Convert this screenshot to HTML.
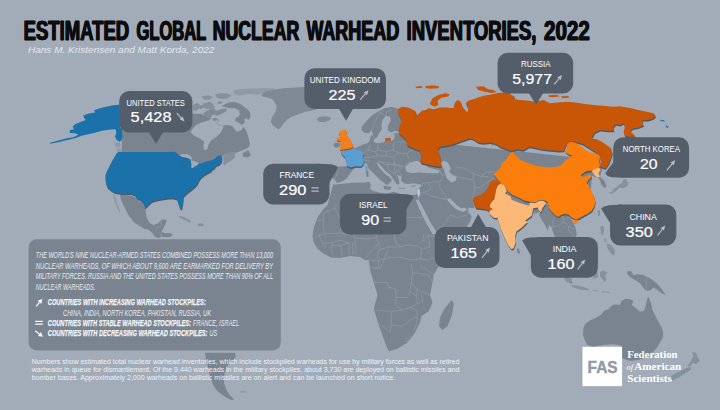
<!DOCTYPE html>
<html><head><meta charset="utf-8"><title>Estimated Global Nuclear Warhead Inventories, 2022</title>
<style>html,body{margin:0;padding:0;background:#a2acb9;}body{width:720px;height:410px;overflow:hidden;font-family:"Liberation Sans",sans-serif;}svg{display:block}</style>
</head><body>
<svg width="720" height="410" viewBox="0 0 720 410">
<rect width="720" height="410" fill="#a2acb9"/>
<g id="map" stroke-linejoin="round">
<polygon points="120,104.5 135,101 160,100 192,112 192.92,113.75 200.83,113.75 203.75,115.42 207.5,116.67 210.83,117.92 211.83,119.33 220,124.67 223.33,127.5 222.92,125.42 226.67,125 231.67,125.83 233.33,127.5 236.67,131.67 241.67,130 243.33,126.67 245.83,130 248.33,136.67 250,144.17 248.33,147.5 243.33,150 236.67,152.5 228.33,154.17 223.33,155.83 221.67,155.83 215,170 150,175 121.5,158 121.5,152.5 122,146 122,141.5 120,128.5" fill="#7a848f"/>
<polygon points="194.17,126.83 197.5,124.33 200.83,122.67 205,121.42 209.17,120.17 211.25,118.5 220,125.33 223,127 223.33,127.5 220.83,132.5 216.67,136.67 211.67,140 208.33,145 207.5,148.67 205.83,150.33 203.67,149.17 203.33,145 204.17,141.67 199.17,138.33 194.17,135.83 190,131.67 190.83,131.67" fill="#a2acb9"/>
<polygon points="177.67,155.23 183.52,154.06 188.39,154.55 191.32,156.89 192.1,159.62 189.37,159.13 185.96,158.16 182.06,157.48" fill="#a2acb9"/>
<polygon points="189.95,160.2 194.24,160.89 198.33,162.84 197.85,165.18 194.24,167.22 191.8,168.68 190.34,165.96 190.93,163.52" fill="#a2acb9"/>
<polygon points="242.5,153.33 248.33,150 250.83,155.83 247.5,157.5 243.33,156.67" fill="#7a848f"/>
<polygon points="222.5,154.75 228.35,152.8 233.23,151.63 235.18,152.8 234.79,157.67 231.28,160.59 227.38,163.03 224.45,165.47 223.09,163.52 223.48,159.62" fill="#86909c"/>
<polygon points="202.5,114.17 206.67,110.83 210.83,108.75 214.17,107.92 215,110 217.5,110.83 220.83,109.17 225,108.33 227.08,109.58 225.83,111.67 222.5,113.33 219.17,115 216.67,115.83 214.17,114.58 211.83,115.42 210.83,117.92 207.5,116.67 203.75,115.42" fill="#808a96"/>
<polygon points="193.33,105 196.25,103.33 198.75,103.75 197.92,106.25 196.25,108.33 193.75,110.42 193.17,108.33" fill="#808a96"/>
<polygon points="206.25,103.33 210,102.08 211.83,103.33 210,105 207.08,105.42" fill="#808a96"/>
<polygon points="209.17,107.5 212.5,105.83 215,106.25 213.75,108.33 210.83,108.75" fill="#808a96"/>
<polygon points="217.5,102.08 220.83,101.25 222.5,102.5 220.42,103.75 217.92,103.75" fill="#808a96"/>
<polygon points="212.5,118.75 215,117.5 217.5,118.75 219.17,120.83 215.83,120.42 213.75,121.25" fill="#808a96"/>
<polygon points="199.17,106.67 202.5,105 204.58,106.25 202.5,108.33 200,109.17" fill="#808a96"/>
<polygon points="192.83,107 197.5,103.67 200.83,105.33 199.17,108.67 195,111 193,110" fill="#848e9a"/>
<polygon points="202.5,103.67 209.17,102 213.67,104.33 212.5,107.67 207.5,109.33 203.33,107.67" fill="#848e9a"/>
<polygon points="221.67,105.83 225,104.17 229.17,102.5 234.17,102.08 240,103.75 244.17,106.67 248.33,110 250,112.5 250.42,117.5 248.33,120 245.83,117.92 244.17,120 245,122.5 241.67,125 238.33,122.5 235,120.83 235.42,118.33 238.33,116.67 240,114.17 239.17,110.83 236.25,108.75 233.33,107.92 230,108.33 227.08,107.5 224.17,107.08" fill="#7a848f"/>
<polygon points="238.75,132.5 241.67,130 244.17,134 238.33,135" fill="#7a848f"/>
<polygon points="215,94.67 220.56,93 227.22,93.56 231.67,95.78 227.22,98.56 221.67,99.11 217.22,98" fill="#86909c"/>
<polygon points="201.67,96.33 208.33,95.22 212.78,96.89 209.44,99.67 203.89,99.67" fill="#86909c"/>
<polygon points="232.78,90.78 240.56,89.11 251.67,88.56 265,88 273.89,88.56 276.11,91.33 265,93.56 257.22,94.67 247.22,94.11 240.56,95.78 235,94.67" fill="#909aa6"/>
<polygon points="260.83,95.83 265,91.67 273.33,89.67 283.33,88.33 295,87.5 304.17,87 316.67,88.33 316.67,109 313.33,110.33 308.33,111.33 304.17,112.33 300,113.67 295,115.5 290,117.67 286.67,120 283.67,123.33 280.83,127.5 278.67,129.17 275.83,127.5 272.5,125 270.83,121.67 272,117.5 274.17,114.17 275.83,110.83 276.67,106.67 275,102.5 272.5,99.17 267.5,97.5 263.33,96.67" fill="#7f8994"/>
<polygon points="317,118.67 320,116.67 326.67,116.33 330.83,117.5 330,120 325,122 320,122 317.5,120.83" fill="#808a96"/>
<polygon points="119.67,104.67 113.33,105.33 105,107 98.33,108.67 94.17,110.33 95,112.5 90,113.33 83.33,115.33 84.17,118.33 85.83,120 79.17,122.5 75,124.17 72.5,126.67 74.17,129.17 70,130 69.67,133 75,133.33 78.33,134.67 73.33,137.17 66.67,138.33 58.33,140.5 50,142.67 50.33,143.67 59.17,142 67.5,140 75,138.33 81.67,135.83 88.33,134.17 95,132.83 100,131.33 105,130.33 111.67,129.5 115.33,129.33 116.33,132.5 115,136.67 116.67,140 120,142 122.5,138.33 122,128.67 120,128" fill="#1b72ab"/>
<polygon points="114.17,143 118.33,142 121,144.17 120,147.5 115.83,147" fill="#909aa6"/>
<polygon points="116.33,148.67 120.33,148.33 121.67,150.83 120.83,153.33 117,152.67" fill="#909aa6"/>
<polygon points="116.73,155.07 118.73,153.4 145.4,153.4 167.07,153.4 175.15,153.22 179.05,156.15 182.46,158.29 186.36,158.88 189.77,160.05 190.94,161.99 191.52,164.92 190.94,167.36 192.2,169.79 194.64,168.33 198.05,166.38 199.03,165.41 202.44,164.43 206.34,162.97 211.21,161.99 215.11,160.05 218.52,157.12 221.93,156.63 222.42,159.07 221.93,162.97 219.98,165.41 216.08,167.36 213.16,170.28 211.21,172.72 207.31,174.67 204.39,176.61 201.46,179.05 199.03,182.46 197.56,185.87 195.4,188.07 191.23,191.4 187.07,194.73 183.73,198.07 183.4,203.9 182.07,210.57 180.4,209.73 178.73,204.73 177.4,200.57 173.73,199.4 168.73,199.4 162.07,200.57 157.07,201.4 152.07,203.07 148.4,206.4 145.4,209.4 143.73,204.73 140.4,201.07 137.07,199.73 135.4,196.4 131.23,195.07 125.4,195.57 120.4,194.73 115.4,193.9 112.07,192.23 107.9,188.9 106.23,183.9 105.73,177.23 107.07,173.07 109.57,168.07 112.07,163.07 114.57,158.9" fill="#4e5a68"/>
<polygon points="116.33,153.67 118.33,152 145,152 166.67,152 174.75,151.82 178.65,154.75 182.06,156.89 185.96,157.48 189.37,158.65 190.54,160.59 191.12,163.52 190.54,165.96 191.8,168.39 194.24,166.93 197.65,164.98 198.63,164.01 202.04,163.03 205.94,161.57 210.81,160.59 214.71,158.65 218.12,155.72 221.53,155.23 222.02,157.67 221.53,161.57 219.58,164.01 215.68,165.96 212.76,168.88 210.81,171.32 206.91,173.27 203.99,175.21 201.06,177.65 198.63,181.06 197.16,184.47 195,186.67 190.83,190 186.67,193.33 183.33,196.67 183,202.5 181.67,209.17 180,208.33 178.33,203.33 177,199.17 173.33,198 168.33,198 161.67,199.17 156.67,200 151.67,201.67 148,205 145,208 143.33,203.33 140,199.67 136.67,198.33 135,195 130.83,193.67 125,194.17 120,193.33 115,192.5 111.67,190.83 107.5,187.5 105.83,182.5 105.33,175.83 106.67,171.67 109.17,166.67 111.67,161.67 114.17,157.5" fill="#1b72ab"/>
<polygon points="182.54,160.4 184.1,160.89 182.15,168 180.59,168.39" fill="#2d6893"/>
<polygon points="120,195 131.67,195.83 136.33,198 138.83,201.17 142,202 144.67,207 145.83,211.67 146.67,217.5 149.17,222.5 153.33,225 158.33,223.33 160.83,220 165,219.17 166.67,220.83 165,225 163.33,228.33 161.67,231.67 165,233.33 170.83,233.33 172.5,235 170.83,236.67 165,237 160.83,236.67 158.33,238.33 155,236.67 152.5,233.33 148.67,229.67 144.17,228.67 139.17,225.83 134.17,222.5 130,217.5 126.67,211.67 123.33,205 120.83,199.17" fill="#7a848f"/>
<polygon points="113,194.67 114.67,194.17 116.33,200 118.33,205.83 120.33,212.5 119.17,213 116.67,206.67 114.17,200" fill="#909aa6"/>
<polygon points="178.33,215.83 183.33,216.67 188.33,219.17 191.67,221.67 190,222.5 185,220.33 180,218" fill="#86909c"/>
<polygon points="197.5,223.67 201.67,223.33 204.17,225 201.67,226.33 198,225.83" fill="#86909c"/>
<polygon points="352.5,147.5 356,148 360,145.8 363.7,144.2 368.3,143 370,139.2 370.8,135.8 373,135.3 374.2,139 373.7,142 377.5,143.3 383.3,142.5 385.8,140.8 391,141 394.2,139.2 395,135.8 393.3,133.3 397.5,132.5 410,140 600,160 602,170 600,177 601.7,178.3 604.1,180.6 605.6,183.9 606.7,186.7 604.4,187.8 602.2,186.1 600.8,182.8 600,180 598.3,178 592,176 590,200 570,216.7 573.3,222.5 575.8,228.3 576.7,234.2 575,240 570,250 568,262 566,272 570,279 573,283 570,283.5 565,279 561,272 560,260 558,245 555,236.7 553.3,233.3 551.7,227.5 549.2,225 548.3,228.3 547.5,230.8 545,225 541.7,220 539.2,215 540.8,210.8 536.7,213.3 520,215 475,206.7 473.3,208.3 468.3,207.5 468.3,211.7 471.7,216.7 470,221.7 466.7,226.7 460,240 445,262 437.5,268 433.75,275 432.5,282.5 430,295 432.5,302.5 428.75,311.25 421.25,316.25 420,322.5 415,332.5 407.5,342.5 397.5,348.75 388.75,351.25 385,342.5 378.75,325 373.75,308.75 377.5,295 373.75,282.5 370,270 368.75,260 365,260 360,257 350,256 340,258 331,257.5 323.75,253.75 317.5,248.75 313.75,242.5 312.5,236.25 313.75,227.5 317.5,217.5 322.5,210 327.5,205 333.3,184.2 337.5,183.3 331.7,176.7 332.5,170 334,166.7 338.3,166.7 346.7,166.3" fill="#7a848f"/>
<polygon points="361.67,126.67 365.83,121.67 371.67,115.83 377.5,111.67 384.17,108.33 391.67,107 397,108.33 401.67,121.67 398.33,131.67 395.83,130.83 390.83,132.5 387.5,130 388.33,125 390.83,120.83 390,116.67 385.83,115.83 382.5,120 381.33,125 382,129.17 379.17,133.33 376.67,137.5 374.17,139.17 373,135 371.67,130 370,132.5 367.5,133.33 363.67,132.5 361.67,130" fill="#7a848f"/>
<polygon points="334.17,184.17 336.67,183.33 342.5,181.17 347.5,177.83 349.17,174.5 351.67,171.17 355.33,167.33 360.83,167 363.67,164.67 368.33,162.5 375,162 378.33,163.33 380.83,165.83 384.17,169.67 388.33,173.33 392.5,176.33 395.83,174.17 401.67,176.67 400.83,179.17 402.5,182.5 406.67,184.17 413.33,183.33 420,184.17 422,185.83 418.67,188.33 417.67,194 415,194.67 406.67,195.33 400,193.67 393.33,191.67 386.67,193.67 380,192.67 373.33,191 370,188.67 370.83,184.17 369.17,181.67 365,182.5 353.33,182.67 343.33,183.83 334.17,184.83" fill="#a2acb9"/>
<polygon points="366.67,163.67 370,161.33 375.83,161.33 378.33,166.33 382,170.83 386.17,175 389.5,177 392,180.33 388.67,184 386,185 384,182.67 380.33,180 376.33,176 372,171.67 368.33,168.33" fill="#7a848f"/>
<polygon points="383.33,185.83 391.67,186.67 390,190 384.17,189.17" fill="#7a848f"/>
<polygon points="365.83,170.83 368.33,170.83 368.67,176.67 366.33,176.67" fill="#7a848f"/>
<polygon points="389.67,171.33 396.17,173 398.33,178.33 399.67,183.33 397.5,185 395,181.67 392.5,178.33 390.83,175" fill="#7a848f"/>
<polygon points="398.33,187.5 405,188 404.67,189.17 398.67,188.83" fill="#86909c"/>
<polygon points="410.83,185.83 415.83,185 415,186.67 411.33,187" fill="#86909c"/>
<polygon points="405,166.67 410,162.5 416.67,160.83 423.33,163.33 428.33,167.5 435,169.17 440,170.83 438.33,173.33 431.67,173.33 425,173 418.33,172.5 411.67,173.33 406.67,171.67" fill="#a2acb9"/>
<polygon points="440.83,162.5 445,160.83 448.33,163.33 450.83,168.33 449.17,171.67 452.5,175 456.67,176.67 455.83,180.83 451.67,182.5 448.33,180 445.83,176.67 445,172.5 443.33,168.33 441.67,165.83" fill="#a2acb9"/>
<polygon points="415.83,200 418.33,199.17 422.5,206.67 426.67,215 430.83,223.33 434.17,228 437.5,234.17 432.5,234.17 429.17,228 425.83,222.5 421.67,214.17 418.33,206.67" fill="#a2acb9"/>
<polygon points="446.67,199.17 450,198.33 453.33,201.67 457.5,205.83 461.67,208.33 465,207.5 467.5,210 463.33,211.67 459.17,210.83 455,208.33 450.83,204.17" fill="#a2acb9"/>
<polygon points="333.63,144.11 335.79,142.84 339.21,142.59 340.23,144.75 338.96,146.9 335.79,147.66 333.63,146.4" fill="#7a848f"/>
<polygon points="452,300 453.75,303.75 452,315 447.5,326.25 442.5,330 439,326.25 440,317.5 443.75,310 447.5,305" fill="#7a848f"/>
<polygon points="517.2,248.3 519.4,249 520.1,252.7 518.4,254.2 516.9,251.2" fill="#7a848f"/>
<polygon points="611.67,192.22 613.33,188.89 617.78,186.11 621.67,183.33 623.89,179.11 626.67,180 628.33,183.33 627.22,186.11 623.89,188.33 619.44,187.78 617.22,190 613.89,192.78 610.56,193.89 608.89,192.22" fill="#86909c"/>
<polygon points="597.5,210.83 599.67,210 600,215 598.33,216.67" fill="#86909c"/>
<polygon points="583.33,328.33 585,324.17 589.17,320.83 595,318.33 601.67,314.17 604.17,310.83 608.33,309.17 611.67,305.83 615,304.17 620,305 621.67,300.83 625.83,298.67 630,299.17 633.33,300.83 632,305 635.83,308.33 640,311.67 644.17,310.83 645.83,305 647,299.17 648.33,296.67 650.83,302.5 652.5,310 655.83,316.67 658.33,321.67 661.67,327.5 663.33,333.33 662.5,338.33 660,342.5 660,342.5 657.5,347 653.3,352 646.7,357 638.3,360 630,361 622.5,358.5 610,355 621.67,345.83 613.33,344.17 603.33,345 593.33,347 587.5,345 585,340.83 583,335" fill="#7a848f"/>
<polygon points="692.5,351.75 696.25,353 698,358 700,360.5 696.25,364.25 692.5,363 690,366.75 687.5,365.5 691.25,360.5 693,356.75" fill="#86909c"/>
<polygon points="670,376.75 676.25,373 683.75,369.25 690,366.75 691.25,369.25 685,373.5 678.75,377.5 672.5,380.5" fill="#86909c"/>
<polygon points="626.67,271.67 630.83,270.83 633.33,275 638.33,274.17 643.33,275 650,278.33 656.67,283.33 660,286.67 664.17,292.5 665.83,295 661.67,293.33 656.67,289.17 653.33,287.5 650,290.83 645.83,290.83 643.33,287.5 640,283.33 635,280 630.83,277.5 627.5,274.17" fill="#7a848f"/>
<polygon points="564.17,277 571.67,278.33 572,281.67 567.5,282.67 564.67,280" fill="#86909c"/>
<polygon points="571.67,285 578.33,285.83 585,287.5 589.17,289.17 588.33,290.33 581.67,289.67 575,288 572,286.67" fill="#86909c"/>
<polygon points="600,271.67 603.67,270.83 607.5,272.5 605,275 606.67,280 604.17,281.67 601.67,278.33 600,275.83" fill="#86909c"/>
<polygon points="591.67,272.5 597.5,271.67 598,277.5 593.33,278.67" fill="#86909c"/>
<polygon points="592.5,289.67 598.33,290.33 598,291.67 592.67,291" fill="#909aa6"/>
<polygon points="601.67,290.83 610,292 609.67,293.33 602,292.33" fill="#909aa6"/>
<polygon points="600.33,226.67 603.33,225.83 604.17,230.83 602.5,235.83 600.83,232.5" fill="#86909c"/>
<polygon points="606.67,243.33 610.83,245 615,250 614.17,255.83 610.83,253.33 607.5,248.33" fill="#86909c"/>
<polygon points="603.33,238.33 606.67,238.67 607,242.5 604.17,242" fill="#909aa6"/>
<polygon points="205,352.67 235,352.67 235.83,357 233.33,360.33 230,362.83 226.67,367 225,372 223.67,377.83 224.17,383.67 226.67,390.33 230,395.33 234.17,399.5 231.67,400.33 226.67,397.83 221.67,394.5 216.67,390.33 213.33,385.33 210.83,379.5 209.17,372.83 207.5,365.33 205.83,358.67" fill="#7a848f"/>
<polygon points="240,391.17 245.83,390.67 245.83,392.83 240.33,392.83" fill="#909aa6"/>
<polyline points="314,221 323,220 324,213 335,208 337,204" fill="none" stroke="#939dab" stroke-width="0.6"/>
<polyline points="323,220 324,234 319,235 315,237" fill="none" stroke="#939dab" stroke-width="0.6"/>
<polyline points="324,234 340,233 341,220 335,208" fill="none" stroke="#939dab" stroke-width="0.6"/>
<polyline points="340,233 349,235 354,232 360,230 377,235" fill="none" stroke="#939dab" stroke-width="0.6"/>
<polyline points="354,232 354,238 366,239 376,238 379,243" fill="none" stroke="#939dab" stroke-width="0.6"/>
<polyline points="377,235 376,238" fill="none" stroke="#939dab" stroke-width="0.6"/>
<polyline points="394,235 396,243 400,247" fill="none" stroke="#939dab" stroke-width="0.6"/>
<polyline points="379,250 388,247 400,247 408,245 418,246 422,249" fill="none" stroke="#939dab" stroke-width="0.6"/>
<polyline points="424,234 422,242 428,235 436,237" fill="none" stroke="#939dab" stroke-width="0.6"/>
<polyline points="406,217.6 425,217.6" fill="none" stroke="#939dab" stroke-width="0.6"/>
<polyline points="406,198 406,217.6 406,224 395,235" fill="none" stroke="#939dab" stroke-width="0.6"/>
<polyline points="420,259 428,260 436,257" fill="none" stroke="#939dab" stroke-width="0.6"/>
<polyline points="412,260 420,259 422,249" fill="none" stroke="#939dab" stroke-width="0.6"/>
<polyline points="379,260 388,258 400,257 412,260" fill="none" stroke="#939dab" stroke-width="0.6"/>
<polyline points="379,250 377,258 379,260 378,268" fill="none" stroke="#939dab" stroke-width="0.6"/>
<polyline points="366,258 372,250 379,243 379,250" fill="none" stroke="#939dab" stroke-width="0.6"/>
<polyline points="319,235 322,243 326,248" fill="none" stroke="#939dab" stroke-width="0.6"/>
<polyline points="331,246 332,254" fill="none" stroke="#939dab" stroke-width="0.6"/>
<polyline points="341,245 342,256" fill="none" stroke="#939dab" stroke-width="0.6"/>
<polyline points="349,243 349,255" fill="none" stroke="#939dab" stroke-width="0.6"/>
<polyline points="352.4,243 353,255" fill="none" stroke="#939dab" stroke-width="0.6"/>
<polyline points="355,240 356,254" fill="none" stroke="#939dab" stroke-width="0.6"/>
<polyline points="332,243 340,240 349,243 341,245 332,246 332,243" fill="none" stroke="#939dab" stroke-width="0.6"/>
<polyline points="322,243 332,243" fill="none" stroke="#939dab" stroke-width="0.6"/>
<polyline points="360,230 362,212" fill="none" stroke="#939dab" stroke-width="0.6"/>
<polyline points="362,212 380,206" fill="none" stroke="#939dab" stroke-width="0.6"/>
<polyline points="428,235 430,247 422,249" fill="none" stroke="#939dab" stroke-width="0.6"/>
<polyline points="373.75,282.5 387.5,282.5 388.75,287.5 395.5,288.75 396.25,297.5 407.5,297.5" fill="none" stroke="#939dab" stroke-width="0.6"/>
<polyline points="373.75,310 392.5,311.25 402.5,310" fill="none" stroke="#939dab" stroke-width="0.6"/>
<polyline points="391.25,312.5 391.25,325 390,332.5" fill="none" stroke="#939dab" stroke-width="0.6"/>
<polyline points="391.25,325 402.5,326.25 410,320" fill="none" stroke="#939dab" stroke-width="0.6"/>
<polyline points="396.25,297.5 395.5,305 402.5,310 410,307.5 417.5,303.75 416.25,296.25 410,291.25" fill="none" stroke="#939dab" stroke-width="0.6"/>
<polyline points="410,307.5 416.25,310 417.5,316.25 410,320" fill="none" stroke="#939dab" stroke-width="0.6"/>
<polyline points="417.5,316.25 416.25,325 413.75,330" fill="none" stroke="#939dab" stroke-width="0.6"/>
<polyline points="412.5,272.5 428.75,275 432.5,282.5" fill="none" stroke="#939dab" stroke-width="0.6"/>
<polyline points="412.5,272.5 411.25,282.5 417.5,290 430,295" fill="none" stroke="#939dab" stroke-width="0.6"/>
<polyline points="411.25,263.75 412.5,272.5" fill="none" stroke="#939dab" stroke-width="0.6"/>
<polyline points="411.25,282.5 410,291.25 407.5,297.5" fill="none" stroke="#939dab" stroke-width="0.6"/>
<polyline points="420,265 433.75,275" fill="none" stroke="#939dab" stroke-width="0.6"/>
<polyline points="370,267.5 380,268.75 383.75,260 387.5,250" fill="none" stroke="#939dab" stroke-width="0.6"/>
<polyline points="368.75,260 380,261.25" fill="none" stroke="#939dab" stroke-width="0.6"/>
<polyline points="405,339.25 407,338 409,340 407,342 405,339.25" fill="none" stroke="#939dab" stroke-width="0.6"/>
<polyline points="380,325 385,327.5 390,332.5" fill="none" stroke="#939dab" stroke-width="0.6"/>
<polyline points="417.5,290 416.25,296.25" fill="none" stroke="#939dab" stroke-width="0.6"/>
<polyline points="417.5,303.75 422.5,301.25 421.25,293.75" fill="none" stroke="#939dab" stroke-width="0.6"/>
<polyline points="416.67,185 428.33,182.5 438.33,181.67 442.5,180" fill="none" stroke="#939dab" stroke-width="0.6"/>
<polyline points="428.33,182.5 430.83,189.17 424.17,192.5" fill="none" stroke="#939dab" stroke-width="0.6"/>
<polyline points="438.33,181.67 440,188.33 445,195 446.67,199.17" fill="none" stroke="#939dab" stroke-width="0.6"/>
<polyline points="424.17,192.5 430.83,195.83 440,198.33 446.67,199.17" fill="none" stroke="#939dab" stroke-width="0.6"/>
<polyline points="420,193.33 424.17,192.5" fill="none" stroke="#939dab" stroke-width="0.6"/>
<polyline points="420,193.33 418.33,199.17" fill="none" stroke="#939dab" stroke-width="0.6"/>
<polyline points="456.67,176.67 465,178.33 473.33,180 475,188.33 472.5,198.33 475,206.67" fill="none" stroke="#939dab" stroke-width="0.6"/>
<polyline points="475,188.33 481.67,186.67 488.33,181.67 493.33,177.5" fill="none" stroke="#939dab" stroke-width="0.6"/>
<polyline points="455,166.67 465,168.33 473.33,173.33 481.67,176.67 488.33,176.67" fill="none" stroke="#939dab" stroke-width="0.6"/>
<polyline points="456.67,176.67 452.5,175" fill="none" stroke="#939dab" stroke-width="0.6"/>
<polyline points="473.33,173.33 473.33,180" fill="none" stroke="#939dab" stroke-width="0.6"/>
<polyline points="481.67,176.67 485,172.5 493.33,171.67" fill="none" stroke="#939dab" stroke-width="0.6"/>
<polyline points="450,215 458.33,217.5 466.67,215 468.33,211.67" fill="none" stroke="#939dab" stroke-width="0.6"/>
<polyline points="450,215 445,223.33 436.67,230" fill="none" stroke="#939dab" stroke-width="0.6"/>
<polyline points="440,172.5 442.5,175.83 445,172.5" fill="none" stroke="#939dab" stroke-width="0.6"/>
<polyline points="435,169.17 440,170.83 442.5,175.83" fill="none" stroke="#939dab" stroke-width="0.6"/>
<polyline points="363.67,153.33 368.33,150 370,144.17" fill="none" stroke="#939dab" stroke-width="0.6"/>
<polyline points="368.33,150 375,151.67 377.5,155.83 370,157.5 363.67,157.5" fill="none" stroke="#939dab" stroke-width="0.6"/>
<polyline points="377.5,143.33 378.33,150 375,151.67" fill="none" stroke="#939dab" stroke-width="0.6"/>
<polyline points="378.33,150 386.67,151.67 393.33,150 394.17,142.5" fill="none" stroke="#939dab" stroke-width="0.6"/>
<polyline points="386.67,151.67 385.83,155.83 377.5,155.83" fill="none" stroke="#939dab" stroke-width="0.6"/>
<polyline points="393.33,150 398.33,153.33 406.67,153.33 413.33,149.17" fill="none" stroke="#939dab" stroke-width="0.6"/>
<polyline points="394.17,142.5 400,141.67 406.67,143" fill="none" stroke="#939dab" stroke-width="0.6"/>
<polyline points="385.83,155.83 393.33,157.5 398.33,153.33" fill="none" stroke="#939dab" stroke-width="0.6"/>
<polyline points="393.33,157.5 395,164.17 386.67,165 377.5,160.83" fill="none" stroke="#939dab" stroke-width="0.6"/>
<polyline points="395,164.17 403.33,165.83 410,161.67 406.67,153.33" fill="none" stroke="#939dab" stroke-width="0.6"/>
<polyline points="385.83,140.83 386.67,137.5 393.33,135.83" fill="none" stroke="#939dab" stroke-width="0.6"/>
<polyline points="393.33,133.33 398.33,134.17" fill="none" stroke="#939dab" stroke-width="0.6"/>
<polyline points="377.5,111.67 385.83,115.83" fill="none" stroke="#939dab" stroke-width="0.6"/>
<polyline points="370,132.5 373.33,125 377.5,116.67 384.17,110" fill="none" stroke="#939dab" stroke-width="0.6"/>
<polyline points="385.83,115.83 386.67,111.67 391.67,110" fill="none" stroke="#939dab" stroke-width="0.6"/>
<polyline points="338.33,166.67 336.67,175 333.33,182.5" fill="none" stroke="#939dab" stroke-width="0.6"/>
<polyline points="363.67,160 370,161.33" fill="none" stroke="#939dab" stroke-width="0.6"/>
<polyline points="377.5,161.67 386.67,162.5 395,165 403.33,166.67" fill="none" stroke="#939dab" stroke-width="0.6"/>
<polyline points="386.67,162.5 388.33,170" fill="none" stroke="#939dab" stroke-width="0.6"/>
<polyline points="395,165 394.17,173.33" fill="none" stroke="#939dab" stroke-width="0.6"/>
<polyline points="388.33,170 394.17,173.33 398.33,170.83 403.33,166.67" fill="none" stroke="#939dab" stroke-width="0.6"/>
<polyline points="394.17,173.33 396.17,173" fill="none" stroke="#939dab" stroke-width="0.6"/>
<polyline points="398.33,170.83 401.67,176.67" fill="none" stroke="#939dab" stroke-width="0.6"/>
<polyline points="540.83,210.83 545,205 551.67,203.33 553.33,210.83 555.83,216.67 552.5,220 553.33,226.67 551.67,227.5" fill="none" stroke="#939dab" stroke-width="0.6"/>
<polyline points="555.83,216.67 561.67,215 565,220 570,216.67" fill="none" stroke="#939dab" stroke-width="0.6"/>
<polyline points="561.67,215 563.67,221.67 568.33,225.83 571.67,228.33 575.83,228.33" fill="none" stroke="#939dab" stroke-width="0.6"/>
<polyline points="553.33,226.67 558.33,225.83 563.67,221.67" fill="none" stroke="#939dab" stroke-width="0.6"/>
<polyline points="568.33,225.83 568.33,230.83 573.33,234.17" fill="none" stroke="#939dab" stroke-width="0.6"/>
<polyline points="530,203.33 531.67,210 536.67,213.33" fill="none" stroke="#939dab" stroke-width="0.6"/>
<polyline points="160.83,220 161.67,225.83 155,228.67" fill="none" stroke="#939dab" stroke-width="0.6"/>
<polyline points="161.67,231.67 160.83,236.67" fill="none" stroke="#939dab" stroke-width="0.6"/>
<polyline points="646.67,276.33 646.33,290.83" fill="none" stroke="#939dab" stroke-width="0.6"/>
<polygon points="440.3,168.17 433.63,167.33 426.97,165.67 421.97,164.83 420.3,162.33 421.97,158.17 420.3,152.33 413.63,149.83 407.8,147.33 406.97,144 406.13,140.67 402.8,138.17 399.47,134.83 398.63,130.67 400.3,126.5 401.97,123.17 400.63,119 398.63,114.83 397.8,110.67 401.97,108.17 408.63,109 415.3,112.33 416.97,114.83 415.3,117.33 418.63,115.67 421.97,112.33 426.13,111.5 428.63,109.83 433.97,110.67 440.3,109 446.97,109 453.63,109.83 455.3,104 457.8,101.5 461.13,103.17 462.8,108.17 466.13,112.33 467.8,114 468.63,109.83 466.13,104.83 468.63,102.33 473.63,100.67 478.63,99 483.63,97.33 490.3,96.17 496.97,94.83 503.63,94 510.3,93.5 510.3,95.67 515.3,98.17 513.63,100.67 520.3,101.5 528.63,102.33 535.3,103.17 543.97,101.5 550.3,104.83 556.97,104 566.97,103.17 575.3,104 583.63,105.17 593.63,106.5 603.63,107.33 613.63,108.17 620.3,107.83 623.97,108.5 630.3,109.5 638.63,111.5 646.97,113.17 653.63,114.83 656.13,117.33 653.63,119.83 648.63,121.5 643.63,121.5 641.97,124.83 644.47,126.5 638.63,129 633.63,129.83 630.3,132.33 633.63,135.67 636.13,138.17 630.3,138.17 625.3,137.33 623.97,133.17 625.3,128.17 623.97,124.83 620.3,126.5 616.13,125.67 613.63,129 614.47,132.33 608.63,132.33 600.3,131.5 595.3,134 592.8,138.17 591.97,140.17 596.97,140.67 601.97,143.17 606.97,146.5 611.13,149.83 612.8,154.83 611.13,159.83 609.47,164.5 607.3,167.5 605.8,170 600.3,168 601.3,164 600.3,156.5 592.8,151.5 582.8,145.25 572.8,142.5 566.3,146.5 564.47,152.33 558.63,152.5 550.3,151.67 541.97,150.83 535.3,149.17 529.47,148.33 523.63,151.67 516.97,150.83 511.97,152.5 506.97,150.83 500.3,148.33 496.97,145.67 490.3,144 483.63,144.83 478.63,144 473.63,140.67 470.3,139.83 465.3,141.5 460.3,143.17 453.63,145.67 446.97,147.33 440.3,148.17 437.8,151.5 440.3,156.5 440.8,161.5 441.8,167.5" fill="#4e5a68"/>
<polygon points="440,166.67 433.33,165.83 426.67,164.17 421.67,163.33 420,160.83 421.67,156.67 420,150.83 413.33,148.33 407.5,145.83 406.67,142.5 405.83,139.17 402.5,136.67 399.17,133.33 398.33,129.17 400,125 401.67,121.67 400.33,117.5 398.33,113.33 397.5,109.17 401.67,106.67 408.33,107.5 415,110.83 416.67,113.33 415,115.83 418.33,114.17 421.67,110.83 425.83,110 428.33,108.33 433.67,109.17 440,107.5 446.67,107.5 453.33,108.33 455,102.5 457.5,100 460.83,101.67 462.5,106.67 465.83,110.83 467.5,112.5 468.33,108.33 465.83,103.33 468.33,100.83 473.33,99.17 478.33,97.5 483.33,95.83 490,94.67 496.67,93.33 503.33,92.5 510,92 510,94.17 515,96.67 513.33,99.17 520,100 528.33,100.83 535,101.67 543.67,100 550,103.33 556.67,102.5 566.67,101.67 575,102.5 583.33,103.67 593.33,105 603.33,105.83 613.33,106.67 620,106.33 623.67,107 630,108 638.33,110 646.67,111.67 653.33,113.33 655.83,115.83 653.33,118.33 648.33,120 643.33,120 641.67,123.33 644.17,125 638.33,127.5 633.33,128.33 630,130.83 633.33,134.17 635.83,136.67 630,136.67 625,135.83 623.67,131.67 625,126.67 623.67,123.33 620,125 615.83,124.17 613.33,127.5 614.17,130.83 608.33,130.83 600,130 595,132.5 592.5,136.67 591.67,138.67 596.67,139.17 601.67,141.67 606.67,145 610.83,148.33 612.5,153.33 610.83,158.33 609.17,163 607,166 605.5,168.5 600,166.5 601,162.5 600,155 592.5,150 582.5,143.75 572.5,141 566,145 564.17,150.83 558.33,151 550,150.17 541.67,149.33 535,147.67 529.17,146.83 523.33,150.17 516.67,149.33 511.67,151 506.67,149.33 500,146.83 496.67,144.17 490,142.5 483.33,143.33 478.33,142.5 473.33,139.17 470,138.33 465,140 460,141.67 453.33,144.17 446.67,145.83 440,146.67 437.5,150 440,155 440.5,160 441.5,166" fill="#c95607"/>
<polygon points="430,103.33 432.5,98.33 438.33,95 445,93.33 450,94.17 447.5,96.67 441.67,97.5 437.5,100.83 438.33,105 435,106.67 430.83,105" fill="#c95607"/>
<polygon points="415,86.67 421.67,86 422.5,87.67 416.67,88.33" fill="#c95607"/>
<polygon points="425,86.33 431.67,85.33 439.17,86.33 438.33,88.33 430,88.67 425.83,88" fill="#c95607"/>
<polygon points="475.83,86.67 483.33,86.33 488.33,89.17 493.33,90 496.67,92 491.67,93 485,91.67 478.33,90" fill="#c95607"/>
<polygon points="548.33,95.33 556.67,94.67 560,96.33 553.33,97.33 549.17,97" fill="#c95607"/>
<polygon points="560.83,96.33 568.33,96 569.17,97.67 562.5,98.33" fill="#c95607"/>
<polygon points="385,138.33 390.83,138 390.83,140.67 385.33,141" fill="#c95607"/>
<polygon points="660,119.67 664.17,120.33 664.67,121.67 660.67,121" fill="#1b72ab"/>
<polygon points="665.83,125 668.33,126.67 668,128.33 666,127" fill="#1b72ab"/>
<polygon points="493.73,175.77 497.9,172.43 501.23,169.1 502.07,164.93 507.07,160.77 510.4,154.93 512.9,153.27 517.07,158.27 521.23,161.6 527.07,164.1 533.73,166.6 542.07,168.27 550.4,169.1 557.07,168.27 562.07,166.6 564.57,163.27 568.73,159.93 572.9,157.43 568.73,155.77 565.4,153.27 567.9,149.93 567.07,146.6 570.4,143.6 575.4,144.1 579.57,146.6 583.73,149.93 588.73,153.27 593.73,154.93 598.73,155.77 600.4,158.27 599.57,163.27 600.4,167.43 598.73,169.93 595.4,170.77 592.07,172.43 587.9,172.43 584.57,174.1 581.23,176.6 582.9,178.6 587.07,177.43 590.4,175.77 592.07,178.27 588.73,181.6 587.07,184.93 589.57,188.27 592.07,193.27 594.57,198.27 595.73,203.27 594.57,208.27 592.07,212.43 587.9,215.27 583.73,217.43 579.57,219.93 576.23,220.77 572.07,219.1 569.57,216.6 565.4,215.27 561.23,216.6 558.73,218.6 555.4,216.6 552.07,213.27 549.57,209.93 548.73,206.6 547.9,203.27 543.73,201.6 539.57,201.6 535.4,204.1 531.23,203.27 525.4,202.43 518.73,199.1 512.9,196.6 507.9,192.43 505.4,187.43 502.07,185.77 497.9,180.77 494.57,176.6" fill="#4e5a68"/>
<polygon points="472.9,199.83 476.23,198.17 481.23,196.5 486.23,192.33 488.73,188.17 490.4,184 493.73,181.5 497.9,182.33 500.4,184.83 497.9,187.33 496.23,191.5 495.4,196.5 494.57,200.67 492.07,203.17 490.4,205.67 490.4,209 492.9,210.67 489.57,212.33 486.23,210.67 482.07,210.17 476.23,209.5 474.57,204.83" fill="#4e5a68"/>
<polygon points="497.9,187.33 500.4,185.17 504.57,186.5 506.23,189.83 507.07,193.17 505.4,194.83 511.23,198.17 512.07,201.17 518.73,204 525.4,206.17 529.57,207.33 530.4,204 535.4,204.83 539.57,202.33 543.73,202.33 546.73,204.83 544.57,207.33 542.9,209.83 541.23,214 539.07,211.5 537.9,209 533.73,209.83 532.9,213.17 532.07,217.33 528.73,219.83 525.4,222.33 527.9,223.5 522,229.3 516.9,233 515.4,238.1 516.1,244 514,249.8 511.8,250.8 508.8,246.9 505.2,239.6 501.5,230.8 498.6,222 498.73,223.17 497.9,218.5 497.07,219.83 493.73,219 490.4,215.67 489.57,212.33 492.9,210.67 490.4,209 490.4,205.67 492.07,203.17 494.57,200.67 495.4,196.5 496.23,191.5" fill="#4e5a68"/>
<polygon points="493.33,174.17 497.5,170.83 500.83,167.5 501.67,163.33 506.67,159.17 510,153.33 512.5,151.67 516.67,156.67 520.83,160 526.67,162.5 533.33,165 541.67,166.67 550,167.5 556.67,166.67 561.67,165 564.17,161.67 568.33,158.33 572.5,155.83 568.33,154.17 565,151.67 567.5,148.33 566.67,145 570,142 575,142.5 579.17,145 583.33,148.33 588.33,151.67 593.33,153.33 598.33,154.17 600,156.67 599.17,161.67 600,165.83 598.33,168.33 595,169.17 591.67,170.83 587.5,170.83 584.17,172.5 580.83,175 582.5,177 586.67,175.83 590,174.17 591.67,176.67 588.33,180 586.67,183.33 589.17,186.67 591.67,191.67 594.17,196.67 595.33,201.67 594.17,206.67 591.67,210.83 587.5,213.67 583.33,215.83 579.17,218.33 575.83,219.17 571.67,217.5 569.17,215 565,213.67 560.83,215 558.33,217 555,215 551.67,211.67 549.17,208.33 548.33,205 547.5,201.67 543.33,200 539.17,200 535,202.5 530.83,201.67 525,200.83 518.33,197.5 512.5,195 507.5,190.83 505,185.83 501.67,184.17 497.5,179.17 494.17,175" fill="#fb7d0c"/>
<polygon points="574.17,220 576.67,219.17 577.5,222.5 575,224.17 573.33,222.5" fill="#fb7d0c"/>
<polygon points="594.17,169.17 599.17,167.5 600.33,170 598.33,173.33 600,176.67 597.5,177.5 595,175.83 593.33,173.33 591.67,171.33" fill="#fcb876"/>
<polygon points="497.5,185.83 500,183.67 504.17,185 505.83,188.33 506.67,191.67 505,193.33 510.83,196.67 511.67,199.67 518.33,202.5 525,204.67 529.17,205.83 530,202.5 535,203.33 539.17,200.83 543.33,200.83 546.33,203.33 544.17,205.83 542.5,208.33 540.83,212.5 538.67,210 537.5,207.5 533.33,208.33 532.5,211.67 531.67,215.83 528.33,218.33 525,220.83 527.5,222 521.6,227.8 516.5,231.5 515,236.6 515.7,242.5 513.6,248.3 511.4,249.3 508.4,245.4 504.8,238.1 501.1,229.3 498.2,220.5 498.33,221.67 497.5,217 496.67,218.33 493.33,217.5 490,214.17 489.17,210.83 492.5,209.17 490,207.5 490,204.17 491.67,201.67 494.17,199.17 495,195 495.83,190" fill="#fcb876"/>
<polygon points="472.5,198.33 475.83,196.67 480.83,195 485.83,190.83 488.33,186.67 490,182.5 493.33,180 497.5,180.83 500,183.33 497.5,185.83 495.83,190 495,195 494.17,199.17 491.67,201.67 490,204.17 490,207.5 492.5,209.17 489.17,210.83 485.83,209.17 481.67,208.67 475.83,208 474.17,203.33" fill="#c95607"/>
<polygon points="341.13,151.4 346.97,150.57 352.8,148.9 356.13,150.57 361.13,152.23 363.97,154.73 362.8,158.9 363.97,162.23 363.3,161.4 363.97,165.57 361.13,168.07 356.13,167.73 351.13,168.9 346.97,167.23 346.97,163.07 345.3,158.4 342.8,156.4 341.13,153.9" fill="#4e5a68"/>
<polygon points="340.83,150 346.67,149.17 352.5,147.5 355.83,149.17 360.83,150.83 363.67,153.33 362.5,157.5 363.67,160.83 363,160 363.67,164.17 360.83,166.67 355.83,166.33 350.83,167.5 346.67,165.83 346.67,161.67 345,157 342.5,155 340.83,152.5" fill="#5a9fd2"/>
<polygon points="365.33,166.33 367.33,166.33 367.5,170.83 365.67,170.83" fill="#5a9fd2"/>
<polygon points="339.89,132.98 342.43,131.45 344.59,130.82 346.87,132.09 346.37,135.26 348.14,137.16 350.05,140.34 351.95,143.51 353.35,146.68 352.71,148.71 348.78,149.98 344.34,150.61 340.53,151.25 339.77,149.47 341.8,146.93 340.53,144.9 341.04,142.37 337.48,141.73 336.47,140.08 339.26,138.81 340.53,136.53 338.75,134.75" fill="#a4560f"/>
<polygon points="339.59,131.68 342.13,130.15 344.29,129.52 346.57,130.79 346.07,133.96 347.84,135.86 349.75,139.04 351.65,142.21 353.05,145.38 352.41,147.41 348.48,148.68 344.04,149.31 340.23,149.95 339.47,148.17 341.5,145.63 340.23,143.6 340.74,141.07 337.18,140.43 336.17,138.78 338.96,137.51 340.23,135.23 338.45,133.45" fill="#f0801f"/>
<polygon points="418,189.17 419.67,188.67 420,193.33 418.83,197.5 417.5,194.17" fill="#a9d1f0"/>
</g>
<g id="title">
<text x="23.15" y="40.3" font-family="'Liberation Sans', sans-serif" font-size="28" font-weight="bold" font-style="normal" fill="#0c0c0e" text-anchor="start" textLength="105.6" lengthAdjust="spacingAndGlyphs" stroke="#0c0c0e" stroke-width="0.3">ESTIMATED</text>
<text x="23.6" y="40.3" font-family="'Liberation Sans', sans-serif" font-size="28" font-weight="bold" font-style="normal" fill="#0c0c0e" text-anchor="start" textLength="105.6" lengthAdjust="spacingAndGlyphs" stroke="#0c0c0e" stroke-width="0.3">ESTIMATED</text>
<text x="24.05" y="40.3" font-family="'Liberation Sans', sans-serif" font-size="28" font-weight="bold" font-style="normal" fill="#0c0c0e" text-anchor="start" textLength="105.6" lengthAdjust="spacingAndGlyphs" stroke="#0c0c0e" stroke-width="0.3">ESTIMATED</text>
<text x="136.05" y="40.3" font-family="'Liberation Sans', sans-serif" font-size="28" font-weight="bold" font-style="normal" fill="#0c0c0e" text-anchor="start" textLength="69.7" lengthAdjust="spacingAndGlyphs" stroke="#0c0c0e" stroke-width="0.3">GLOBAL</text>
<text x="136.5" y="40.3" font-family="'Liberation Sans', sans-serif" font-size="28" font-weight="bold" font-style="normal" fill="#0c0c0e" text-anchor="start" textLength="69.7" lengthAdjust="spacingAndGlyphs" stroke="#0c0c0e" stroke-width="0.3">GLOBAL</text>
<text x="136.95" y="40.3" font-family="'Liberation Sans', sans-serif" font-size="28" font-weight="bold" font-style="normal" fill="#0c0c0e" text-anchor="start" textLength="69.7" lengthAdjust="spacingAndGlyphs" stroke="#0c0c0e" stroke-width="0.3">GLOBAL</text>
<text x="212.35" y="40.3" font-family="'Liberation Sans', sans-serif" font-size="28" font-weight="bold" font-style="normal" fill="#0c0c0e" text-anchor="start" textLength="86.4" lengthAdjust="spacingAndGlyphs" stroke="#0c0c0e" stroke-width="0.3">NUCLEAR</text>
<text x="212.8" y="40.3" font-family="'Liberation Sans', sans-serif" font-size="28" font-weight="bold" font-style="normal" fill="#0c0c0e" text-anchor="start" textLength="86.4" lengthAdjust="spacingAndGlyphs" stroke="#0c0c0e" stroke-width="0.3">NUCLEAR</text>
<text x="213.25" y="40.3" font-family="'Liberation Sans', sans-serif" font-size="28" font-weight="bold" font-style="normal" fill="#0c0c0e" text-anchor="start" textLength="86.4" lengthAdjust="spacingAndGlyphs" stroke="#0c0c0e" stroke-width="0.3">NUCLEAR</text>
<text x="305.95" y="40.3" font-family="'Liberation Sans', sans-serif" font-size="28" font-weight="bold" font-style="normal" fill="#0c0c0e" text-anchor="start" textLength="92.8" lengthAdjust="spacingAndGlyphs" stroke="#0c0c0e" stroke-width="0.3">WARHEAD</text>
<text x="306.4" y="40.3" font-family="'Liberation Sans', sans-serif" font-size="28" font-weight="bold" font-style="normal" fill="#0c0c0e" text-anchor="start" textLength="92.8" lengthAdjust="spacingAndGlyphs" stroke="#0c0c0e" stroke-width="0.3">WARHEAD</text>
<text x="306.85" y="40.3" font-family="'Liberation Sans', sans-serif" font-size="28" font-weight="bold" font-style="normal" fill="#0c0c0e" text-anchor="start" textLength="92.8" lengthAdjust="spacingAndGlyphs" stroke="#0c0c0e" stroke-width="0.3">WARHEAD</text>
<text x="406.15" y="40.3" font-family="'Liberation Sans', sans-serif" font-size="28" font-weight="bold" font-style="normal" fill="#0c0c0e" text-anchor="start" textLength="129.8" lengthAdjust="spacingAndGlyphs" stroke="#0c0c0e" stroke-width="0.3">INVENTORIES,</text>
<text x="406.6" y="40.3" font-family="'Liberation Sans', sans-serif" font-size="28" font-weight="bold" font-style="normal" fill="#0c0c0e" text-anchor="start" textLength="129.8" lengthAdjust="spacingAndGlyphs" stroke="#0c0c0e" stroke-width="0.3">INVENTORIES,</text>
<text x="407.05" y="40.3" font-family="'Liberation Sans', sans-serif" font-size="28" font-weight="bold" font-style="normal" fill="#0c0c0e" text-anchor="start" textLength="129.8" lengthAdjust="spacingAndGlyphs" stroke="#0c0c0e" stroke-width="0.3">INVENTORIES,</text>
<text x="543.55" y="40.3" font-family="'Liberation Sans', sans-serif" font-size="28" font-weight="bold" font-style="normal" fill="#0c0c0e" text-anchor="start" textLength="45.8" lengthAdjust="spacingAndGlyphs" stroke="#0c0c0e" stroke-width="0.3">2022</text>
<text x="544" y="40.3" font-family="'Liberation Sans', sans-serif" font-size="28" font-weight="bold" font-style="normal" fill="#0c0c0e" text-anchor="start" textLength="45.8" lengthAdjust="spacingAndGlyphs" stroke="#0c0c0e" stroke-width="0.3">2022</text>
<text x="544.45" y="40.3" font-family="'Liberation Sans', sans-serif" font-size="28" font-weight="bold" font-style="normal" fill="#0c0c0e" text-anchor="start" textLength="45.8" lengthAdjust="spacingAndGlyphs" stroke="#0c0c0e" stroke-width="0.3">2022</text>
<text x="28" y="53" font-family="'Liberation Sans', sans-serif" font-size="8.6" font-weight="normal" font-style="italic" fill="#e4e8ee" text-anchor="start" textLength="186.4" lengthAdjust="spacingAndGlyphs">Hans M. Kristensen and Matt Korda, 2022</text>
</g>
<g id="infobox">
<path d="M36.6,239.3 H272.8 A8,8 0 0 1 280.8,247.3 V342.4 A8,8 0 0 1 272.8,350.4 H36.6 A8,8 0 0 1 28.6,342.4 V247.3 A8,8 0 0 1 36.6,239.3 Z" fill="#7a8490"/>
<text x="35.8" y="257.8" font-family="'Liberation Sans', sans-serif" font-size="9.4" font-weight="normal" font-style="italic" fill="#e9edf2" text-anchor="start" textLength="237.2" lengthAdjust="spacingAndGlyphs">THE WORLD'S NINE NUCLEAR-ARMED STATES COMBINED POSSESS MORE THAN 13,000</text>
<text x="35.8" y="268.5" font-family="'Liberation Sans', sans-serif" font-size="9.4" font-weight="normal" font-style="italic" fill="#e9edf2" text-anchor="start" textLength="237.2" lengthAdjust="spacingAndGlyphs">NUCLEAR WARHEADS, OF WHICH ABOUT 9,600 ARE EARMARKED FOR DELIVERY BY</text>
<text x="35.8" y="279.1" font-family="'Liberation Sans', sans-serif" font-size="9.4" font-weight="normal" font-style="italic" fill="#e9edf2" text-anchor="start" textLength="237.2" lengthAdjust="spacingAndGlyphs">MILITARY FORCES. RUSSIA AND THE UNITED STATES POSSESS MORE THAN 90% OF ALL</text>
<text x="35.8" y="289.8" font-family="'Liberation Sans', sans-serif" font-size="9.4" font-weight="normal" font-style="italic" fill="#e9edf2" text-anchor="start" textLength="59.5" lengthAdjust="spacingAndGlyphs">NUCLEAR WARHEADS.</text>
<text x="47.8" y="305.3" font-family="'Liberation Sans', sans-serif" font-size="9" font-weight="bold" font-style="italic" fill="#f4f6f9" text-anchor="start" textLength="158" lengthAdjust="spacingAndGlyphs" stroke="#f4f6f9" stroke-width="0.25">COUNTRIES WITH INCREASING WARHEAD STOCKPILES:</text>
<text x="63" y="315.6" font-family="'Liberation Sans', sans-serif" font-size="9" font-weight="normal" font-style="italic" fill="#e9edf2" text-anchor="start" textLength="148" lengthAdjust="spacingAndGlyphs">CHINA, INDIA, NORTH KOREA, PAKISTAN, RUSSIA, UK</text>
<text x="47.8" y="325.9" font-family="'Liberation Sans', sans-serif" font-size="9" font-weight="bold" font-style="italic" fill="#f4f6f9" text-anchor="start" textLength="143.2" lengthAdjust="spacingAndGlyphs" stroke="#f4f6f9" stroke-width="0.25">COUNTRIES WITH STABLE WARHEAD STOCKPILES:</text>
<text x="193" y="325.9" font-family="'Liberation Sans', sans-serif" font-size="9" font-weight="normal" font-style="italic" fill="#e9edf2" text-anchor="start" textLength="46" lengthAdjust="spacingAndGlyphs">FRANCE, ISRAEL</text>
<text x="47.8" y="336.1" font-family="'Liberation Sans', sans-serif" font-size="9" font-weight="bold" font-style="italic" fill="#f4f6f9" text-anchor="start" textLength="159.7" lengthAdjust="spacingAndGlyphs" stroke="#f4f6f9" stroke-width="0.25">COUNTRIES WITH DECREASING WARHEAD STOCKPILES:</text>
<text x="209.5" y="336.1" font-family="'Liberation Sans', sans-serif" font-size="9" font-weight="normal" font-style="italic" fill="#e9edf2" text-anchor="start" textLength="7.5" lengthAdjust="spacingAndGlyphs">US</text>
<path d="M36.1,306.4 L39.4413,302.422" stroke="#f4f6f9" stroke-width="1.3" fill="none"/><path d="M42.4,298.9 L41.3785,304.05 L37.5041,300.795 Z" fill="#f4f6f9"/><path d="M35.2,321.3 H42.8 M35.2,324.1 H42.8" stroke="#f4f6f9" stroke-width="1.25" fill="none"/><path d="M35.2,330.8 L39.3313,333.925" stroke="#f4f6f9" stroke-width="1.3" fill="none"/><path d="M43,336.7 L37.8051,335.943 L40.8576,331.907 Z" fill="#f4f6f9"/></g>
<g id="footnote">
<text x="31.8" y="363.7" font-family="'Liberation Sans', sans-serif" font-size="6.6" font-weight="normal" font-style="normal" fill="#eef1f5" text-anchor="start" textLength="427.6" lengthAdjust="spacingAndGlyphs">Numbers show estimated total nuclear warhead inventories, which include stockpiled warheads for use by military forces as well as retired</text>
<text x="31.8" y="372.1" font-family="'Liberation Sans', sans-serif" font-size="6.6" font-weight="normal" font-style="normal" fill="#eef1f5" text-anchor="start" textLength="427.6" lengthAdjust="spacingAndGlyphs">warheads in queue for dismantlement. Of the 9,440 warheads in the military stockpiles, about 3,730 are deployed on ballistic missiles and</text>
<text x="31.8" y="380.4" font-family="'Liberation Sans', sans-serif" font-size="6.6" font-weight="normal" font-style="normal" fill="#eef1f5" text-anchor="start" textLength="363.4" lengthAdjust="spacingAndGlyphs">bomber bases. Approximately 2,000 warheads on ballistic missiles are on alert and can be launched on short notice.</text>
</g>
<g id="labels">
<g class="lbl"><path d="M129.2,91.1 H182.4 A10,10 0 0 1 192.4,101.1 V122.5 A10,10 0 0 1 182.4,132.5 H129.2 A10,10 0 0 1 119.2,122.5 V101.1 A10,10 0 0 1 129.2,91.1 Z" fill="#545e6b"/><path d="M148.6,132 L156,143.8 L163.2,132 Z" fill="#545e6b"/><text x="126.6" y="106.1" font-family="'Liberation Sans', sans-serif" font-size="8.8" font-weight="normal" font-style="normal" fill="#fff" text-anchor="start" textLength="58.2" lengthAdjust="spacingAndGlyphs">UNITED STATES</text><text x="130.6" y="121.8" font-family="'Liberation Sans', sans-serif" font-size="15.4" font-weight="normal" font-style="normal" fill="#fff" text-anchor="start" textLength="40.9" lengthAdjust="spacingAndGlyphs" stroke="#ffffff" stroke-width="0.2">5,428</text><path d="M176.8,113.2 L181.137,117.88" stroke="#b9c0ca" stroke-width="1.1" fill="none"/><path d="M184.4,121.4 L179.553,119.348 L182.721,116.411 Z" fill="#b9c0ca"/></g>
<g class="lbl"><path d="M314.4,68.3 H376 A10,10 0 0 1 386,78.3 V99 A10,10 0 0 1 376,109 H314.4 A10,10 0 0 1 304.4,99 V78.3 A10,10 0 0 1 314.4,68.3 Z" fill="#545e6b"/><path d="M338.8,108.5 L346,120.7 L353.2,108.5 Z" fill="#545e6b"/><text x="309.8" y="82.9" font-family="'Liberation Sans', sans-serif" font-size="8.8" font-weight="normal" font-style="normal" fill="#fff" text-anchor="start" textLength="70.5" lengthAdjust="spacingAndGlyphs">UNITED KINGDOM</text><text x="328.5" y="99.7" font-family="'Liberation Sans', sans-serif" font-size="15.4" font-weight="normal" font-style="normal" fill="#fff" text-anchor="start" textLength="27" lengthAdjust="spacingAndGlyphs" stroke="#ffffff" stroke-width="0.2">225</text><path d="M360.2,99.7 L365.342,93.8147" stroke="#b9c0ca" stroke-width="1.1" fill="none"/><path d="M368.5,90.2 L366.968,95.2359 L363.715,92.3936 Z" fill="#b9c0ca"/></g>
<g class="lbl"><path d="M507.6,52.7 H563.2 A10,10 0 0 1 573.2,62.7 V83.4 A10,10 0 0 1 563.2,93.4 H507.6 A10,10 0 0 1 497.6,83.4 V62.7 A10,10 0 0 1 507.6,52.7 Z" fill="#545e6b"/><path d="M528.8,93 L536,104.7 L543.2,93 Z" fill="#545e6b"/><text x="520.9" y="67.1" font-family="'Liberation Sans', sans-serif" font-size="8.8" font-weight="normal" font-style="normal" fill="#fff" text-anchor="start" textLength="29.8" lengthAdjust="spacingAndGlyphs">RUSSIA</text><text x="512.2" y="84" font-family="'Liberation Sans', sans-serif" font-size="15.4" font-weight="normal" font-style="normal" fill="#fff" text-anchor="start" textLength="39.9" lengthAdjust="spacingAndGlyphs" stroke="#ffffff" stroke-width="0.2">5,977</text><path d="M554.2,84.4 L559.012,78.6746" stroke="#b9c0ca" stroke-width="1.1" fill="none"/><path d="M562.1,75 L560.665,80.0643 L557.358,77.2849 Z" fill="#b9c0ca"/></g>
<g class="lbl"><path d="M273.2,163.7 H319.5 A10,10 0 0 1 329.5,173.7 V194.4 A10,10 0 0 1 319.5,204.4 H273.2 A10,10 0 0 1 263.2,194.4 V173.7 A10,10 0 0 1 273.2,163.7 Z" fill="#545e6b"/><path d="M318,163.7 L331,164.3 Q336,165.2 338.3,167.4 L329.5,182.4 L322,175 Z" fill="#545e6b"/><text x="279.6" y="178" font-family="'Liberation Sans', sans-serif" font-size="8.8" font-weight="normal" font-style="normal" fill="#fff" text-anchor="start" textLength="34.4" lengthAdjust="spacingAndGlyphs">FRANCE</text><text x="279.1" y="194.6" font-family="'Liberation Sans', sans-serif" font-size="15.4" font-weight="normal" font-style="normal" fill="#fff" text-anchor="start" textLength="27.4" lengthAdjust="spacingAndGlyphs" stroke="#ffffff" stroke-width="0.2">290</text><path d="M311.4,187.8 H318.8 M311.4,191.1 H318.8" stroke="#b3bac4" stroke-width="1.3" fill="none"/></g>
<g class="lbl"><path d="M349.9,193.7 H396.5 A10,10 0 0 1 406.5,203.7 V224.4 A10,10 0 0 1 396.5,234.4 H349.9 A10,10 0 0 1 339.9,224.4 V203.7 A10,10 0 0 1 349.9,193.7 Z" fill="#545e6b"/><path d="M395,193.7 L407,194.2 Q411.5,194.9 413.7,196.9 L406.5,209 L399,204 Z" fill="#545e6b"/><text x="358.9" y="207.7" font-family="'Liberation Sans', sans-serif" font-size="8.8" font-weight="normal" font-style="normal" fill="#fff" text-anchor="start" textLength="28.6" lengthAdjust="spacingAndGlyphs">ISRAEL</text><text x="361.3" y="224.6" font-family="'Liberation Sans', sans-serif" font-size="15.4" font-weight="normal" font-style="normal" fill="#fff" text-anchor="start" textLength="17.9" lengthAdjust="spacingAndGlyphs" stroke="#ffffff" stroke-width="0.2">90</text><path d="M383.6,217.8 H391 M383.6,221.1 H391" stroke="#b3bac4" stroke-width="1.3" fill="none"/></g>
<g class="lbl"><path d="M444.8,227 H489.5 A10,10 0 0 1 499.5,237 V257.9 A10,10 0 0 1 489.5,267.9 H444.8 A10,10 0 0 1 434.8,257.9 V237 A10,10 0 0 1 444.8,227 Z" fill="#545e6b"/><path d="M471,227.5 L478.1,213.9 L486.2,227.5 Z" fill="#545e6b"/><text x="446.9" y="241.3" font-family="'Liberation Sans', sans-serif" font-size="8.8" font-weight="normal" font-style="normal" fill="#fff" text-anchor="start" textLength="41.5" lengthAdjust="spacingAndGlyphs">PAKISTAN</text><text x="450.4" y="257.9" font-family="'Liberation Sans', sans-serif" font-size="15.4" font-weight="normal" font-style="normal" fill="#fff" text-anchor="start" textLength="26.6" lengthAdjust="spacingAndGlyphs" stroke="#ffffff" stroke-width="0.2">165</text><path d="M482,257.9 L487.056,251.391" stroke="#b9c0ca" stroke-width="1.1" fill="none"/><path d="M490,247.6 L488.762,252.716 L485.35,250.066 Z" fill="#b9c0ca"/></g>
<g class="lbl"><path d="M540.8,236.9 H587.9 A10,10 0 0 1 597.9,246.9 V267.8 A10,10 0 0 1 587.9,277.8 H540.8 A10,10 0 0 1 530.8,267.8 V246.9 A10,10 0 0 1 540.8,236.9 Z" fill="#545e6b"/><path d="M542,236.9 L530,237.6 Q525,238.4 522.1,240.4 L530.8,255.3 L538,248 Z" fill="#545e6b"/><text x="552.7" y="251.5" font-family="'Liberation Sans', sans-serif" font-size="8.8" font-weight="normal" font-style="normal" fill="#fff" text-anchor="start" textLength="23.8" lengthAdjust="spacingAndGlyphs">INDIA</text><text x="547.5" y="268.6" font-family="'Liberation Sans', sans-serif" font-size="15.4" font-weight="normal" font-style="normal" fill="#fff" text-anchor="start" textLength="26.9" lengthAdjust="spacingAndGlyphs" stroke="#ffffff" stroke-width="0.2">160</text><path d="M577.6,269.4 L582.277,263.307" stroke="#b9c0ca" stroke-width="1.1" fill="none"/><path d="M585.2,259.5 L583.99,264.623 L580.564,261.992 Z" fill="#b9c0ca"/></g>
<g class="lbl"><path d="M623.2,137.3 H679.1 A10,10 0 0 1 689.1,147.3 V167.7 A10,10 0 0 1 679.1,177.7 H623.2 A10,10 0 0 1 613.2,167.7 V147.3 A10,10 0 0 1 623.2,137.3 Z" fill="#545e6b"/><path d="M613.2,162.5 L605.3,172.9 Q607,176.5 612,177.3 L624,177.7 L620,165 Z" fill="#545e6b"/><text x="622.8" y="151.7" font-family="'Liberation Sans', sans-serif" font-size="8.8" font-weight="normal" font-style="normal" fill="#fff" text-anchor="start" textLength="57.2" lengthAdjust="spacingAndGlyphs">NORTH KOREA</text><text x="640.1" y="168.6" font-family="'Liberation Sans', sans-serif" font-size="15.4" font-weight="normal" font-style="normal" fill="#fff" text-anchor="start" textLength="17.5" lengthAdjust="spacingAndGlyphs" stroke="#ffffff" stroke-width="0.2">20</text><path d="M666.8,170.3 L672.149,163.805" stroke="#b9c0ca" stroke-width="1.1" fill="none"/><path d="M675.2,160.1 L673.816,165.178 L670.481,162.432 Z" fill="#b9c0ca"/></g>
<g class="lbl"><path d="M620.1,204.5 H666.3 A10,10 0 0 1 676.3,214.5 V235.4 A10,10 0 0 1 666.3,245.4 H620.1 A10,10 0 0 1 610.1,235.4 V214.5 A10,10 0 0 1 620.1,204.5 Z" fill="#545e6b"/><path d="M622,204.5 L609,205.2 Q604,206.2 601,208.5 L610.1,223 L618,216 Z" fill="#545e6b"/><text x="629.5" y="219.6" font-family="'Liberation Sans', sans-serif" font-size="8.8" font-weight="normal" font-style="normal" fill="#fff" text-anchor="start" textLength="27.3" lengthAdjust="spacingAndGlyphs">CHINA</text><text x="625.6" y="236.5" font-family="'Liberation Sans', sans-serif" font-size="15.4" font-weight="normal" font-style="normal" fill="#fff" text-anchor="start" textLength="27.2" lengthAdjust="spacingAndGlyphs" stroke="#ffffff" stroke-width="0.2">350</text><path d="M657.6,235.4 L662.296,229.222" stroke="#b9c0ca" stroke-width="1.1" fill="none"/><path d="M665.2,225.4 L664.015,230.529 L660.576,227.915 Z" fill="#b9c0ca"/></g>
</g>
<g id="fas">
<rect x="582.5" y="346.8" width="39.6" height="39.3" fill="#ffffff"/>
<text x="587.6" y="372.7" font-family="'Liberation Sans', sans-serif" font-size="16.4" font-weight="bold" font-style="normal" fill="#909aa8" text-anchor="start" textLength="30" lengthAdjust="spacingAndGlyphs" stroke="#909aa8" stroke-width="0.45">FAS</text>
<text x="627.2" y="357.6" font-family="'Liberation Serif', serif" font-size="10.2" font-weight="bold" font-style="normal" fill="#fff" text-anchor="start" textLength="50.4" lengthAdjust="spacingAndGlyphs">Federation</text>
<text x="626.6" y="370.4" font-family="'Liberation Serif', serif" font-size="7.2" font-weight="normal" font-style="italic" fill="#fff" text-anchor="start" textLength="6.6" lengthAdjust="spacingAndGlyphs">of</text>
<text x="634.2" y="370.4" font-family="'Liberation Serif', serif" font-size="10.2" font-weight="bold" font-style="normal" fill="#fff" text-anchor="start" textLength="47" lengthAdjust="spacingAndGlyphs">American</text>
<text x="627.2" y="382.2" font-family="'Liberation Serif', serif" font-size="10.2" font-weight="bold" font-style="normal" fill="#fff" text-anchor="start" textLength="44.6" lengthAdjust="spacingAndGlyphs">Scientists</text>
</g>
</svg>
</body></html>
